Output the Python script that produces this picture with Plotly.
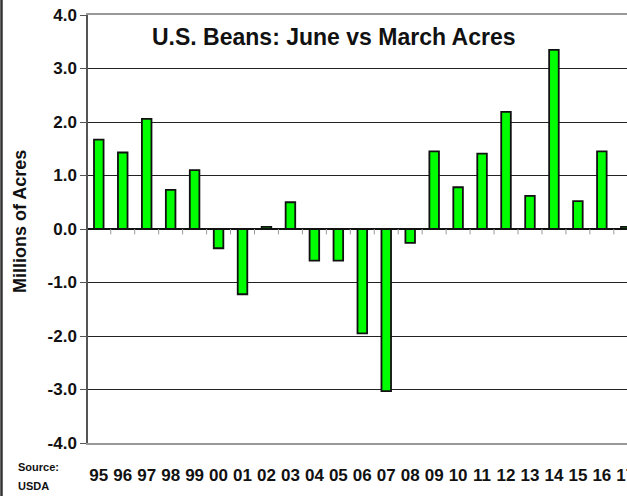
import plotly.graph_objects as go

years = ["95","96","97","98","99","00","01","02","03","04","05","06","07","08",
         "09","10","11","12","13","14","15","16","17"]
changes = [1.67, 1.43, 2.06, 0.73, 1.10, -0.36, -1.22, 0.04, 0.50, -0.59, -0.59,
           -1.95, -3.03, -0.26, 1.45, 0.78, 1.41, 2.19, 0.62, 3.35, 0.52, 1.45, 0.04]
y_ticks = [-4, -3, -2, -1, 0, 1, 2, 3, 4]
y_tick_text = ["-4.0", "-3.0", "-2.0", "-1.0", "0.0", "1.0", "2.0", "3.0", "4.0"]

FONT = "Liberation Sans, Arial, sans-serif"
W, H = 627, 496
L, R, T, B = 88, 0, 15, 53
pw, ph = W - L - R, H - T - B

xidx = list(range(len(years)))

fig = go.Figure()
fig.add_trace(go.Bar(
    x=xidx, y=changes, width=0.4,
    marker=dict(color="#00FF00", line=dict(color="#111111", width=1.8)),
    hoverinfo="x+y",
))

# small tick marks below the zero line at category boundaries
shapes = []
for i in xidx:
    shapes.append(dict(type="line", xref="x", yref="y", x0=i + 0.5, x1=i + 0.5,
                       y0=0, y1=-0.1, line=dict(color="#999999", width=1)))
# outer frame line at left edge of image
shapes.append(dict(type="line", xref="paper", yref="paper",
                   x0=-(L - 1.5) / pw, x1=-(L - 1.5) / pw,
                   y0=-B / ph, y1=1 + T / ph, line=dict(color="#333333", width=2.5)))

fig.update_layout(
    width=W, height=H,
    margin=dict(l=L, r=R, t=T, b=B, pad=0, autoexpand=False),
    paper_bgcolor="white", plot_bgcolor="white",
    showlegend=False,
    font=dict(family=FONT, color="#111111"),
    xaxis=dict(
        range=[-0.45, 22.05],
        tickmode="array", tickvals=xidx, ticktext=years,
        tickfont=dict(family=FONT, size=17, color="#111111", weight="bold"),
        showgrid=False, zeroline=False, automargin=False,
        showline=True, mirror=True, linecolor="#999999", linewidth=1.5,
        ticks="", ticklabelstandoff=16, ticklabeloverflow="allow",
    ),
    yaxis=dict(
        range=[-4, 4], automargin=False,
        tickmode="array", tickvals=y_ticks, ticktext=y_tick_text,
        tickfont=dict(family=FONT, size=17, color="#111111", weight="bold"),
        showgrid=True, gridcolor="#222222", gridwidth=1.2,
        zeroline=True, zerolinecolor="#111111", zerolinewidth=1.5,
        showline=True, linecolor="#555555", linewidth=1.5,
        ticks="outside", ticklen=6, tickcolor="#555555",
    ),
    shapes=shapes,
    annotations=[
        dict(text="<b>U.S. Beans: June vs March Acres</b>", xref="paper", yref="paper",
             x=(333 - L) / pw, y=1 - (37 - T) / ph, xanchor="center", yanchor="middle",
             showarrow=False, font=dict(family=FONT, size=23, color="#111111")),
        dict(text="<b>Millions of Acres</b>", xref="paper", yref="paper",
             x=-(L - 20) / pw, y=1 - (222 - T) / ph, xanchor="center", yanchor="middle",
             textangle=-90, showarrow=False,
             font=dict(family=FONT, size=18, color="#111111")),
        dict(text="<b>Source:</b>", xref="paper", yref="paper",
             x=-(L - 16) / pw, y=-(467 - (T + ph)) / ph,
             xanchor="left", yanchor="middle", align="left", showarrow=False,
             font=dict(family=FONT, size=11, color="#111111")),
        dict(text="<b>USDA</b>", xref="paper", yref="paper",
             x=-(L - 16) / pw, y=-(486 - (T + ph)) / ph,
             xanchor="left", yanchor="middle", align="left", showarrow=False,
             font=dict(family=FONT, size=11, color="#111111")),
    ],
)

fig.write_html("out.html", config={"displayModeBar": False},
               post_script="document.body.style.margin='0px';document.body.style.overflow='hidden';")
